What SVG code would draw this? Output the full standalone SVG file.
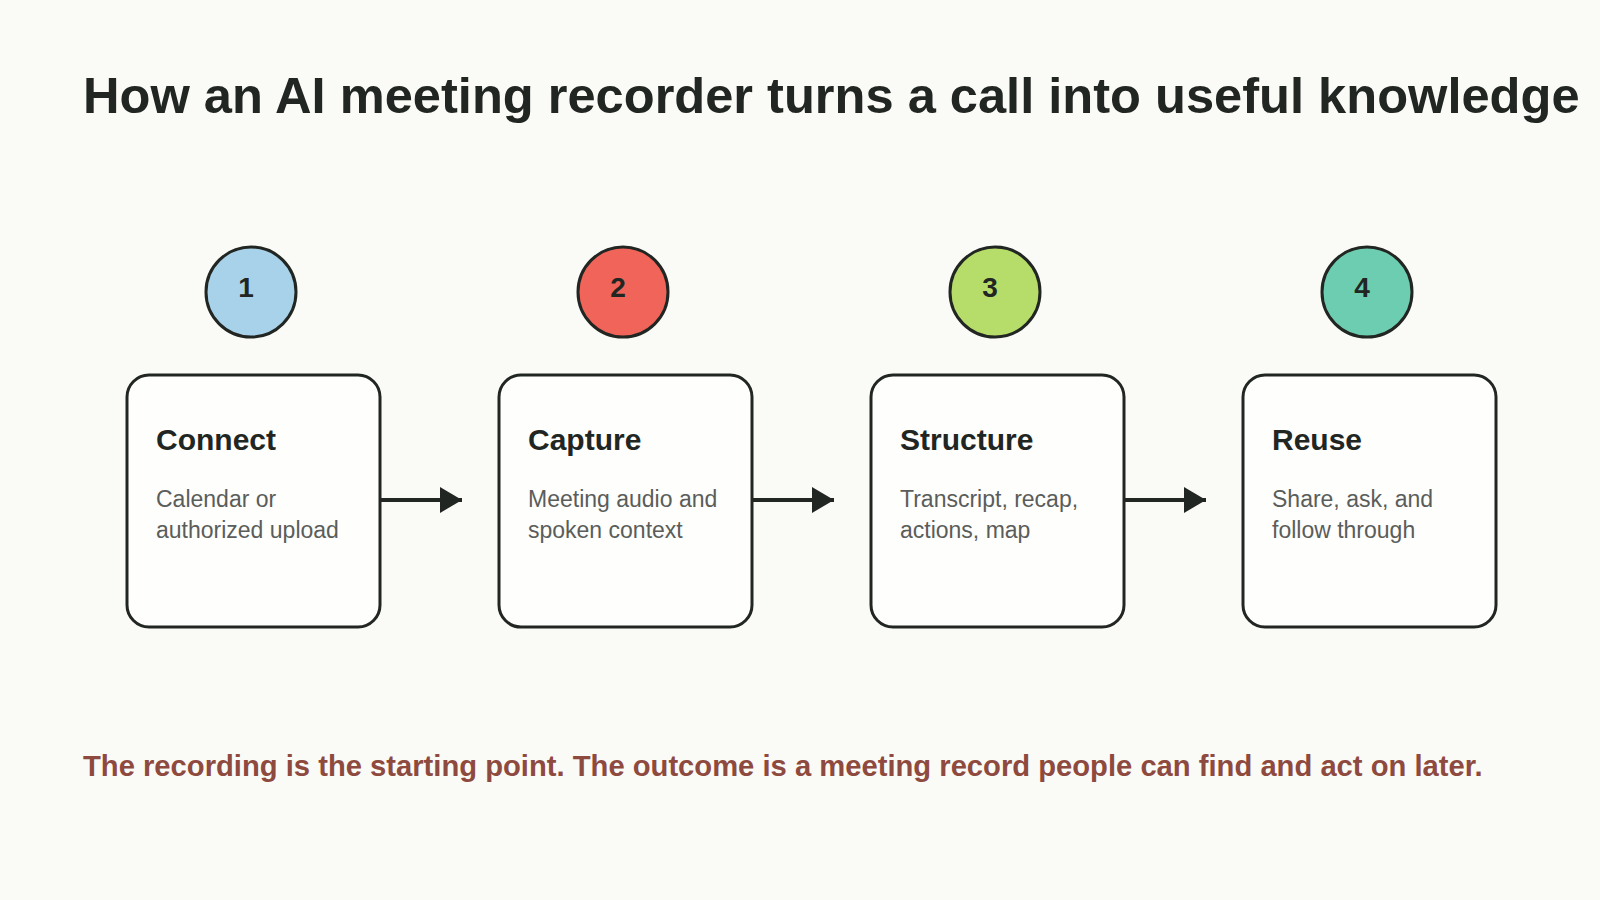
<svg xmlns="http://www.w3.org/2000/svg" width="1600" height="900" viewBox="0 0 1600 900">
<defs>
<style>
.title{font-family:"Liberation Sans",Arial,sans-serif;font-weight:bold;font-size:50.6px;fill:#222622}
.foot{font-family:"Liberation Sans",Arial,sans-serif;font-weight:bold;font-size:29.2px;fill:#8E4A3E}
.card{fill:#FEFEFD;stroke:#222622;stroke-width:3}
.badge{stroke:#222622;stroke-width:3}
.num{font-family:"Liberation Sans",Arial,sans-serif;font-weight:bold;font-size:28px;fill:#222622;text-anchor:middle}
.head{font-family:"Liberation Sans",Arial,sans-serif;font-weight:bold;font-size:30px;fill:#222622}
.body{font-family:"Liberation Sans",Arial,sans-serif;font-size:23px;fill:#5A5D5A}
.conn{stroke:#222622;stroke-width:4;fill:none}
</style>
<marker id="arr" viewBox="0 0 22 26" refX="22" refY="13" markerWidth="22" markerHeight="26" markerUnits="userSpaceOnUse" orient="auto">
<path d="M0,0 L22,13 L0,26 Z" fill="#222622"/>
</marker>
</defs>
<rect width="1600" height="900" fill="#FAFAF7"/>
<text class="title" x="83" y="113">How an AI meeting recorder turns a call into useful knowledge</text>
<g id="connectors">
<line class="conn" x1="380" y1="500" x2="462" y2="500" marker-end="url(#arr)"/>
<line class="conn" x1="752" y1="500" x2="834" y2="500" marker-end="url(#arr)"/>
<line class="conn" x1="1124" y1="500" x2="1206" y2="500" marker-end="url(#arr)"/>
</g>
<g id="step1">
<circle class="badge" cx="251" cy="292" r="45" fill="#A8D2EA"/>
<text class="num" x="246" y="297">1</text>
<rect class="card" x="127" y="375" width="253" height="252" rx="22"/>
<text class="head" x="156" y="450">Connect</text>
<text class="body" x="156" y="507">Calendar or</text>
<text class="body" x="156" y="538">authorized upload</text>
</g>
<g id="step2">
<circle class="badge" cx="623" cy="292" r="45" fill="#F0645A"/>
<text class="num" x="618" y="297">2</text>
<rect class="card" x="499" y="375" width="253" height="252" rx="22"/>
<text class="head" x="528" y="450">Capture</text>
<text class="body" x="528" y="507">Meeting audio and</text>
<text class="body" x="528" y="538">spoken context</text>
</g>
<g id="step3">
<circle class="badge" cx="995" cy="292" r="45" fill="#B6DC6A"/>
<text class="num" x="990" y="297">3</text>
<rect class="card" x="871" y="375" width="253" height="252" rx="22"/>
<text class="head" x="900" y="450">Structure</text>
<text class="body" x="900" y="507">Transcript, recap,</text>
<text class="body" x="900" y="538">actions, map</text>
</g>
<g id="step4">
<circle class="badge" cx="1367" cy="292" r="45" fill="#6DCDB1"/>
<text class="num" x="1362" y="297">4</text>
<rect class="card" x="1243" y="375" width="253" height="252" rx="22"/>
<text class="head" x="1272" y="450">Reuse</text>
<text class="body" x="1272" y="507">Share, ask, and</text>
<text class="body" x="1272" y="538">follow through</text>
</g>
<text class="foot" x="83" y="776">The recording is the starting point. The outcome is a meeting record people can find and act on later.</text>
</svg>
